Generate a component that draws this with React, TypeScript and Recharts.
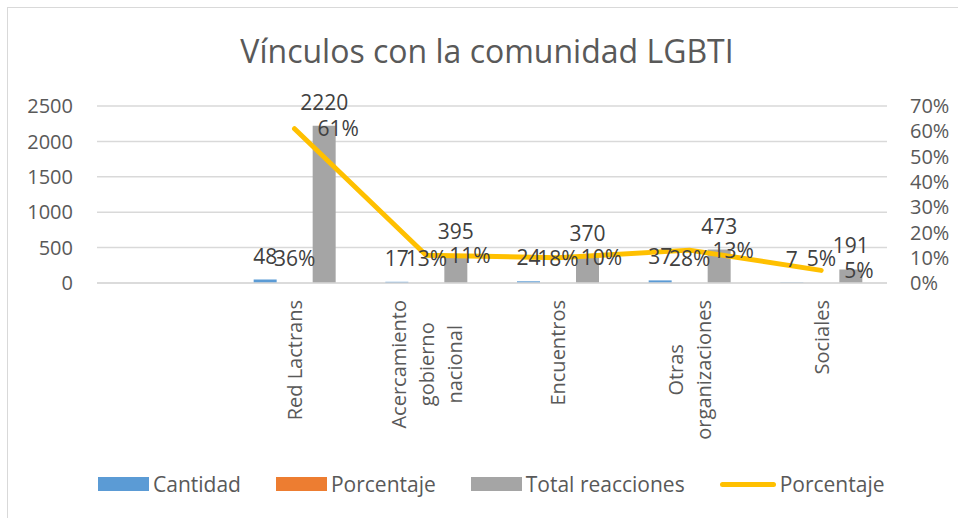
import { ComposedChart, Bar, Line, XAxis, YAxis, CartesianGrid, LabelList } from 'recharts'

const categories = ['', 'Red Lactrans', 'Acercamiento\ngobierno\nnacional', 'Encuentros', 'Otras\norganizaciones', 'Sociales']
const cantidad = [null, 48, 17, 24, 37, 7]
const porcentaje = [null, 0.36, 0.13, 0.18, 0.28, 0.05]
const totalReacciones = [null, 2220, 395, 370, 473, 191]
const porcentajeLinea = [null, 0.61, 0.11, 0.1, 0.13, 0.05]
const leftTicks = [0, 500, 1000, 1500, 2000, 2500]
const rightTicks = [0, 0.1, 0.2, 0.3, 0.4, 0.5, 0.6, 0.7]

const data = categories.map((name, i) => ({
    name,
    cantidad: cantidad[i],
    porcentaje: porcentaje[i],
    total: totalReacciones[i],
    linea: porcentajeLinea[i],
}))

const FONT = '"Open Sans", sans-serif'
const GRID = '#d9d9d9'
const TEXT = '#595959'
const LABEL = '#404040'

const pct = (v: any) => (v === null || v === undefined ? '' : `${Math.round(v * 100)}%`)
const num = (v: any) => (v === null || v === undefined ? '' : `${v}`)

let ctx: CanvasRenderingContext2D | null = null
function measure(text: string, font: string) {
    if (!ctx) ctx = document.createElement('canvas').getContext('2d')
    if (!ctx) return text.length * 10
    ctx.font = font
    return ctx.measureText(text).width
}

// rotated, wrapped category labels like Excel
function CategoryTick({ x, y, payload }: any) {
    if (!payload || !payload.value) return null
    const lines = String(payload.value).split('\n')
    const maxLen = Math.max(...lines.map(l => measure(l, `20px ${FONT}`)))
    const cy = y + 15 + maxLen / 2
    return (
        <g>
            {lines.map((l, i) => {
                const lx = x + (i - (lines.length - 1) / 2) * 28
                return (
                    <text
                        key={i}
                        x={lx}
                        y={cy}
                        transform={`rotate(-90, ${lx}, ${cy})`}
                        textAnchor="middle"
                        dominantBaseline="central"
                        fill={TEXT}
                        fontSize={20}
                        fontFamily={FONT}
                    >
                        {l}
                    </text>
                )
            })}
        </g>
    )
}

const legendItems = [
    { label: 'Cantidad', color: '#5b9bd5', type: 'rect' },
    { label: 'Porcentaje', color: '#ed7d31', type: 'rect' },
    { label: 'Total reacciones', color: '#a5a5a5', type: 'rect' },
    { label: 'Porcentaje', color: '#ffc000', type: 'line' },
]

export default function App() {
    const labelStyle = { fill: LABEL, fontSize: 21, fontFamily: FONT }
    return (
        <div style={{ position: 'absolute', left: 0, top: 0, width: 958, height: 518, overflow: 'hidden', background: '#fff', fontFamily: FONT }}>
            <div style={{ position: 'absolute', left: 7, top: 7, width: 980, height: 540, borderTop: `1.5px solid ${GRID}`, borderLeft: `1.5px solid ${GRID}` }} />
            <div style={{ position: 'absolute', left: 0, width: 974, top: 35, textAlign: 'center', fontSize: 32, lineHeight: '31px', color: TEXT }}>
                Vínculos con la comunidad LGBTI
            </div>
            <div style={{ position: 'absolute', left: 0, top: 0 }}>
                <ComposedChart
                    width={958}
                    height={518}
                    data={data}
                    margin={{ top: 106, right: 0, bottom: 0, left: 0 }}
                    barGap={6.5}
                    style={{ fontFamily: FONT }}
                >
                    <CartesianGrid yAxisId="left" horizontal={true} vertical={false} stroke={GRID} strokeWidth={1.5} />
                    <XAxis
                        dataKey="name"
                        height={235}
                        interval={0}
                        tickLine={false}
                        tickSize={0}
                        axisLine={{ stroke: GRID, strokeWidth: 1.5 }}
                        tick={<CategoryTick />}
                    />
                    <YAxis
                        yAxisId="left"
                        width={97}
                        domain={[0, 2500]}
                        ticks={leftTicks}
                        interval={0}
                        axisLine={false}
                        tickLine={false}
                        tickSize={0}
                        tickMargin={24}
                        tick={{ fill: TEXT, fontSize: 20, fontFamily: FONT }}
                    />
                    <YAxis
                        yAxisId="right"
                        orientation="right"
                        width={71}
                        domain={[0, 0.7]}
                        ticks={rightTicks}
                        interval={0}
                        tickFormatter={pct}
                        axisLine={false}
                        tickLine={false}
                        tickSize={0}
                        tickMargin={23}
                        tick={{ fill: TEXT, fontSize: 20, fontFamily: FONT, textAnchor: 'start' }}
                    />
                    <Bar yAxisId="left" dataKey="cantidad" name="Cantidad" fill="#5b9bd5" barSize={23} isAnimationActive={false}>
                        <LabelList dataKey="cantidad" position="top" offset={16} formatter={num} style={labelStyle} />
                    </Bar>
                    <Bar yAxisId="left" dataKey="porcentaje" name="Porcentaje" fill="#ed7d31" barSize={23} isAnimationActive={false}>
                        <LabelList dataKey="porcentaje" position="top" offset={17} formatter={pct} style={labelStyle} />
                    </Bar>
                    <Bar yAxisId="left" dataKey="total" name="Total reacciones" fill="#a5a5a5" barSize={23} isAnimationActive={false}>
                        <LabelList dataKey="total" position="top" offset={16} formatter={num} style={labelStyle} />
                    </Bar>
                    <Line
                        yAxisId="right"
                        dataKey="linea"
                        name="Porcentaje"
                        stroke="#ffc000"
                        strokeWidth={5}
                        strokeLinecap="round"
                        strokeLinejoin="round"
                        dot={false}
                        activeDot={false}
                        isAnimationActive={false}
                    >
                        <LabelList dataKey="linea" position="right" offset={23} formatter={pct} style={labelStyle} />
                    </Line>
                </ComposedChart>
            </div>
            {/* legend */}
            <div style={{ position: 'absolute', left: 98, top: 471, display: 'flex', alignItems: 'center', gap: 35, fontSize: 21, color: TEXT, lineHeight: '26px' }}>
                {legendItems.map((it, i) => (
                    <div key={i} style={{ display: 'flex', alignItems: 'center', gap: 4 }}>
                        {it.type === 'rect'
                            ? <div style={{ width: 51, height: 14, background: it.color }} />
                            : <div style={{ width: 56, height: 5, borderRadius: 3, background: it.color }} />}
                        <span>{it.label}</span>
                    </div>
                ))}
            </div>
        </div>
    )
}
